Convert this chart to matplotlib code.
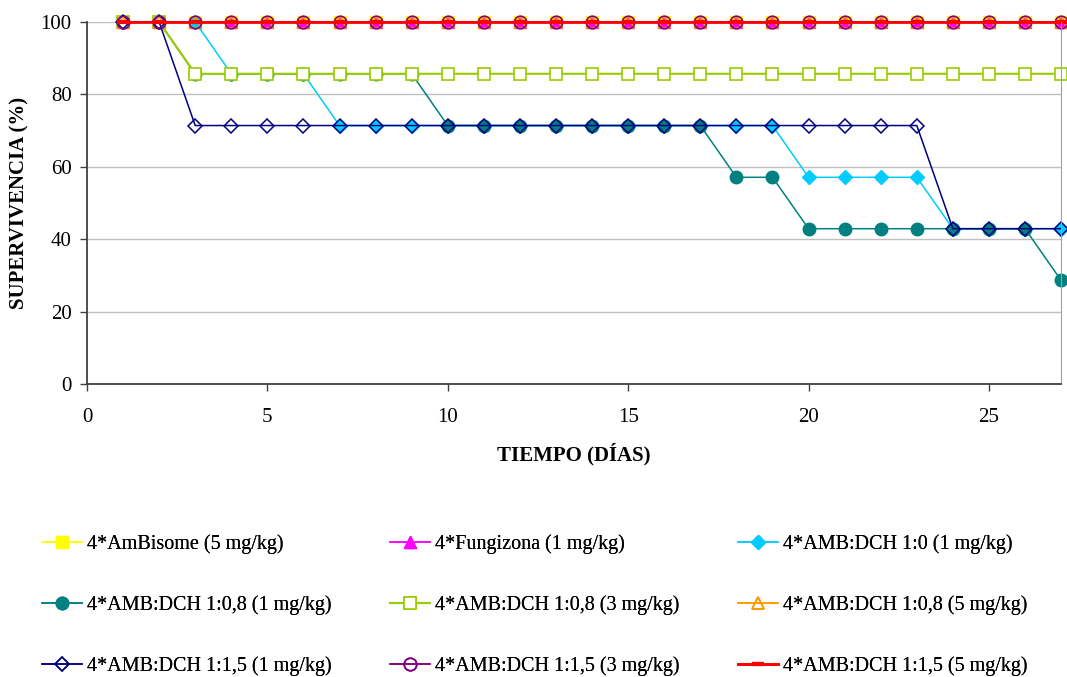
# survival curves for the treatment groups, steps per day
import matplotlib.pyplot as plt

plt.rcParams['font.family'] = ['Liberation Serif', 'DejaVu Serif']

dias = list(range(1, 28))

ambisome = [100] * 27
fungizona = [100] * 27
dch_10_1 = [100] * 3 + [85.7] * 3 + [71.4] * 13 + [57.1] * 4 + [42.9] * 4
dch_08_1 = [100] * 2 + [85.7] * 7 + [71.4] * 8 + [57.1] * 2 + [42.9] * 7 + [28.6]
dch_08_3 = [100] * 2 + [85.7] * 25
dch_08_5 = [100] * 27
dch_15_1 = [100] * 2 + [71.4] * 21 + [42.9] * 4
dch_15_3 = [100] * 27
dch_15_5 = [100] * 27

etiquetas = [
    '4*AmBisome (5 mg/kg)',
    '4*Fungizona (1 mg/kg)',
    '4*AMB:DCH 1:0 (1 mg/kg)',
    '4*AMB:DCH 1:0,8 (1 mg/kg)',
    '4*AMB:DCH 1:0,8 (3 mg/kg)',
    '4*AMB:DCH 1:0,8 (5 mg/kg)',
    '4*AMB:DCH 1:1,5 (1 mg/kg)',
    '4*AMB:DCH 1:1,5 (3 mg/kg)',
    '4*AMB:DCH 1:1,5 (5 mg/kg)',
]

fig = plt.figure(figsize=(10.67, 6.77), dpi=100)
ax = fig.add_axes([0.0815, 0.4328, 0.913, 0.5347])

lw = 1.1
lineas = []
lineas += ax.plot(dias, ambisome, color='#FFFF00', lw=lw, marker='s', ms=8.5,
                  mfc='#FFFF00', mec='#FFFF00', label=etiquetas[0])
lineas += ax.plot(dias, fungizona, color='#FF00FF', lw=lw, marker='^', ms=8.5,
                  mfc='#FF00FF', mec='#FF00FF', label=etiquetas[1])
lineas += ax.plot(dias, dch_10_1, color='#00CCFF', lw=lw, marker='D', ms=7,
                  mfc='#00CCFF', mec='#00CCFF', label=etiquetas[2])
lineas += ax.plot(dias, dch_08_1, color='#008080', lw=lw, marker='o', ms=9,
                  mfc='#008080', mec='#008080', label=etiquetas[3])
lineas += ax.plot(dias, dch_08_3, color='#99CC00', lw=1.5, marker='s', ms=8.5,
                  mfc='white', mec='#99CC00', mew=1.2, label=etiquetas[4])
lineas += ax.plot(dias, dch_08_5, color='#FF9900', lw=lw, marker='^', ms=9,
                  mfc='none', mec='#FF9900', mew=1.2, label=etiquetas[5])
lineas += ax.plot(dias, dch_15_1, color='#000080', lw=lw, marker='D', ms=7,
                  mfc='none', mec='#000080', mew=1.1, label=etiquetas[6])
lineas += ax.plot(dias, dch_15_3, color='#800080', lw=lw, marker='o', ms=9,
                  mfc='none', mec='#800080', mew=1.2, label=etiquetas[7])
lineas += ax.plot(dias, dch_15_5, color='#FF0000', lw=2, marker='_', ms=8,
                  mec='#FF0000', mew=3, label=etiquetas[8])

for l in lineas:
    l.set_clip_on(False)

ax.set_xlim(0, 27)
ax.set_ylim(0, 100)
ax.set_xticks(range(0, 30, 5))
ax.set_yticks(range(0, 101, 20))
ax.yaxis.grid(True, color='#C0C0C0', lw=1)
ax.set_axisbelow(True)

for s in ['left', 'bottom']:
    ax.spines[s].set_color('#404040')
    ax.spines[s].set_linewidth(1.3)
ax.spines['top'].set_visible(False)
ax.spines['right'].set_color('#A0A0A0')
ax.tick_params(axis='both', direction='out', length=5, width=1,
               color='#404040', labelsize=15)
ax.tick_params(axis='x', pad=12)
ax.tick_params(axis='y', pad=6)

ax.set_xlabel('TIEMPO (DÍAS)', fontsize=15, fontweight='bold', labelpad=12)
ax.set_ylabel('SUPERVIVENCIA (%)', fontsize=15, fontweight='bold', labelpad=8)

# three legend columns, each one placed on its own
col_x = [42, 390, 738]
for c in range(3):
    idx = [c, c + 3, c + 6]
    leg = fig.legend([lineas[i] for i in idx], [etiquetas[i] for i in idx],
                     loc='center left',
                     bbox_to_anchor=(col_x[c] / 1067, 1 - 605 / 677),
                     frameon=False, fontsize=14.5, handlelength=2.0,
                     handletextpad=0.25, labelspacing=2.05,
                     borderpad=0, borderaxespad=0)
    fig.add_artist(leg)

fig.savefig('out.png', dpi=100)
